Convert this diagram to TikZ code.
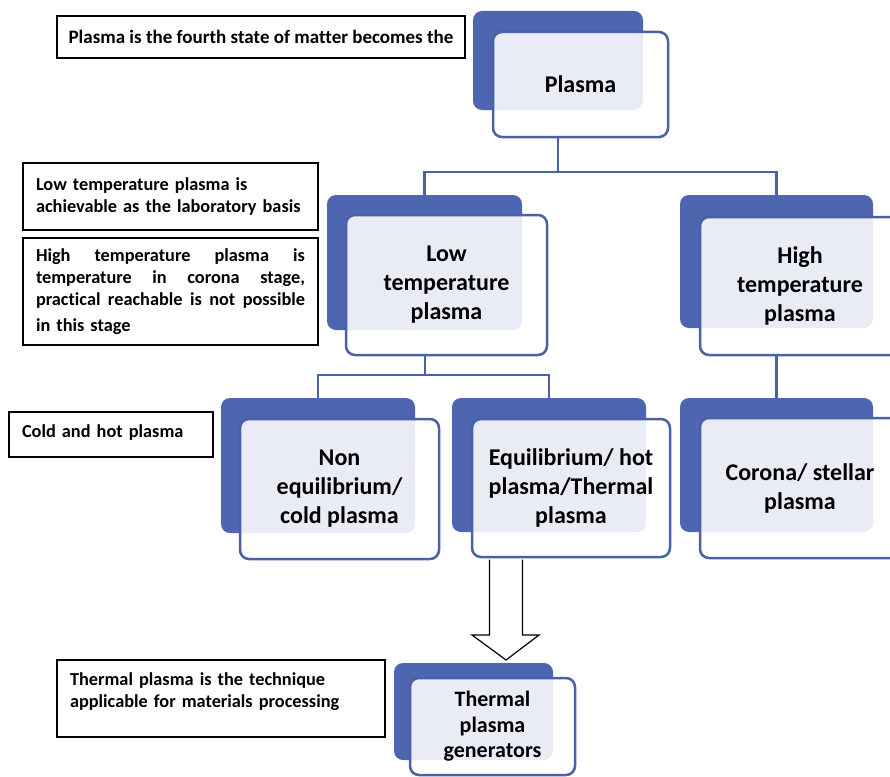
\documentclass[tikz,border=0pt]{standalone}
\usepackage{fontspec}
\setmainfont{Carlito}[Ligatures=NoCommon]
\usetikzlibrary{calc}
\definecolor{bback}{RGB}{78,102,176}
\definecolor{bline}{RGB}{74,96,168}
\tikzset{
  backbox/.style={fill=bback, draw=none, rounded corners=9pt, inner sep=0pt, outer sep=0pt},
  frontbox/.style={draw=bline, line width=2.5pt, fill=white, fill opacity=0.88, text opacity=1,
    rounded corners=9pt, align=center, inner sep=0pt, outer sep=0pt,
    font=\bfseries\fontsize{24}{29}\selectfont},
  callout/.style={draw=black, line width=1.4pt, fill=white, align=left, anchor=north west,
    inner xsep=13pt, inner ysep=0pt, outer sep=0pt,
    font=\bfseries\fontsize{18.3}{22}\selectfont},
  conn/.style={draw=bline, line width=2.5pt},
  blockarr/.style={draw=black, line width=1.2pt, fill=white, line join=miter},
}
\begin{document}
\begin{tikzpicture}[x=1pt,y=-1pt]
\useasboundingbox (0,0) rectangle (890,776);
\fill[white] (0,0) rectangle (890,776);

% callouts
\node[callout, align=center, inner xsep=0pt, minimum width=408pt, minimum height=42pt,
  font=\bfseries\fontsize{19}{22}\selectfont] (c1) at (57,16)
  {Plasma is the fourth state of matter becomes the};
\node[callout, text width=269pt, minimum height=67pt] (c2) at (23,163)
  {Low temperature plasma is\\achievable as the laboratory basis};
\node[callout, text width=269pt, minimum height=107pt] (c3) at (23,238)
  {\makebox[269pt][l]{High\hfill temperature\hfill plasma\hfill is}\\
   \makebox[269pt][l]{temperature\hfill in\hfill corona\hfill stage,}\\
   \makebox[269pt][l]{practical\hfill reachable\hfill is\hfill not\hfill possible}\\[4pt]
   in this stage};
\node[callout, text width=178pt, minimum height=45pt] (c4) at (9,412)
  {\raisebox{2pt}[\height][\depth]{Cold and hot plasma}};
\node[callout, text width=302pt, minimum height=77pt] (c5) at (57,660)
  {\raisebox{7pt}[\height][\depth]{\parbox{302pt}{Thermal plasma is the technique\\applicable for materials processing}}};

% back boxes
\node[backbox, minimum width=170pt, minimum height=99pt] (pb) at (558,60.5) {};
\node[backbox, minimum width=195pt, minimum height=135pt] (lb) at (424.5,262.5) {};
\node[backbox, minimum width=193pt, minimum height=133pt] (hb) at (776.5,261.5) {};
\node[backbox, minimum width=194pt, minimum height=135pt] (nb) at (318,465.5) {};
\node[backbox, minimum width=194pt, minimum height=134pt] (eb) at (549,465) {};
\node[backbox, minimum width=193pt, minimum height=134pt] (cb) at (776.5,465) {};
\node[backbox, minimum width=159pt, minimum height=97pt] (tb) at (473.5,711.5) {};

% connectors
\coordinate (j1) at (558,172);
\coordinate (j2) at (425,375);
\draw[conn] (pb.center |- 0,137) -- (j1) -| (lb.north);
\draw[conn] (j1) -| (hb.north);
\draw[conn] (j2 |- 0,355) -- (j2) -| (nb.north);
\draw[conn] (j2) -| (eb.north);
\draw[conn] (hb.center |- 0,355) -- (cb.north);

% front boxes
\node[frontbox, minimum width=175pt, minimum height=105pt] (pf) at (580.5,84.5) {Plasma};
\node[frontbox, minimum width=201pt, minimum height=140pt] (lf) at (446.5,285) {Low\\temperature\\plasma};
\node[frontbox, minimum width=200pt, minimum height=138pt] (hf) at (800,286) {High\\temperature\\plasma};
\node[frontbox, minimum width=199pt, minimum height=140pt] (nf) at (339.5,489) {Non\\equilibrium/\\cold plasma};
\node[frontbox, minimum width=198pt, minimum height=138pt] (ef) at (571,488) {Equilibrium/ hot\\plasma/Thermal\\plasma};
\node[frontbox, minimum width=200pt, minimum height=140pt] (cf) at (800,488) {Corona/ stellar\\plasma};
\node[frontbox, minimum width=165pt, minimum height=97pt, font=\bfseries\fontsize{22}{25.5}\selectfont] (tf) at (492.5,726.5) {Thermal\\plasma\\generators};

% block arrow
\coordinate (at) at (506,559.5);
\coordinate (tip) at (506,660);
\draw[blockarr] ($(at)+(-16.5,0)$) -- ($(at)+(-16.5,75.5)$) -- ($(at)+(-34,75.5)$)
  -- (tip) -- ($(at)+(33,75.5)$) -- ($(at)+(16.5,75.5)$) -- ($(at)+(16.5,0)$);
\end{tikzpicture}
\end{document}
